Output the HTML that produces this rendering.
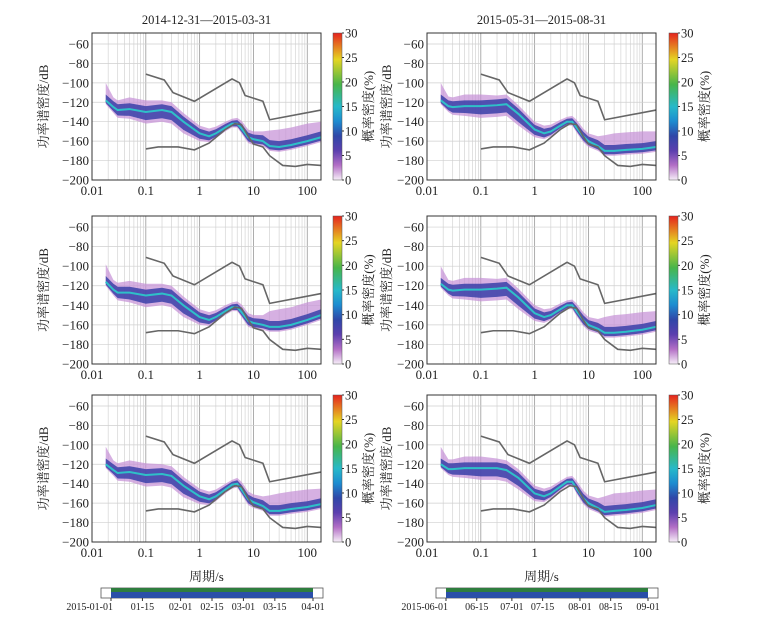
<!DOCTYPE html>
<html><head><meta charset="utf-8">
<style>
body{margin:0;background:#fff}
svg text{font-family:"Liberation Serif","Noto Serif CJK SC",serif;fill:#222}
</style></head>
<body>
<svg id="c" width="783" height="624" viewBox="0 0 783 624" xmlns="http://www.w3.org/2000/svg">
<defs>
<linearGradient id="cb" x1="0" y1="1" x2="0" y2="0">
<stop offset="0" stop-color="#f6eef8"/>
<stop offset="0.1" stop-color="#b36fc6"/>
<stop offset="0.2" stop-color="#5b3fae"/>
<stop offset="0.3" stop-color="#2f47a8"/>
<stop offset="0.4" stop-color="#1d8cd0"/>
<stop offset="0.5" stop-color="#27b9c9"/>
<stop offset="0.65" stop-color="#48b54a"/>
<stop offset="0.82" stop-color="#e5d523"/>
<stop offset="1" stop-color="#e5231e"/>
</linearGradient>
</defs>
</svg>
<script>
// ---- data ----
const periods=[0.018,0.025,0.03,0.05,0.1,0.2,0.3,0.5,1,1.5,2,3,4,5,6,8,10,15,20,30,50,100,180];
const modeTL=[-118,-125,-128,-127,-130,-128,-130,-140,-152,-155,-152,-146,-142,-142,-147,-156,-158,-160,-165,-166,-164,-160,-156];
const modeML=[-116,-124,-127,-127,-130,-128,-130,-140,-152,-155,-152,-146,-142,-142,-147,-156,-158,-160,-162,-162,-160,-155,-150];
const modeBL=[-120,-126,-129,-128,-131,-130,-132,-142,-153,-156,-153,-146,-141,-140,-146,-156,-159,-163,-168,-168,-166,-164,-161];
const modeTR=[-118,-124,-125,-124,-124,-123,-122,-132,-148,-152,-150,-144,-140,-140,-146,-155,-160,-165,-170,-170,-169,-168,-166];
const modeMR=[-118,-124,-125,-124,-124,-123,-122,-132,-148,-152,-150,-144,-140,-140,-146,-155,-160,-164,-168,-168,-167,-165,-162];
const modeBR=[-120,-125,-125,-124,-124,-124,-126,-134,-150,-153,-150,-143,-138,-138,-145,-155,-160,-165,-169,-168,-167,-165,-162];
const upSpread=[18,10,10,12,12,10,10,9,8,8,7,6,5,6,8,8,8,10,16,18,18,18,16];
const loSpread=[4,6,8,10,12,12,12,12,8,6,5,4,4,4,5,6,6,5,5,5,5,5,5];
const nhnmP=[0.1,0.22,0.32,0.8,4,5.5,7,15,20,180];
const nhnmV=[-91,-97,-110,-119,-96,-100,-113,-119,-138,-128];
const nlnmP=[0.1,0.17,0.4,0.8,1.5,3,4.5,6,8,10,15,20,35,60,100,180];
const nlnmV=[-168,-166,-166,-169,-162,-148,-142,-143,-155,-163,-166,-175,-185,-186,-184,-185];
const yTicks=[-60,-80,-100,-120,-140,-160,-180,-200];
const xTicks=[0.01,0.1,1,10,100];
const xTickLabels=["0.01","0.1","1","10","100"];
const cbTicks=[0,5,10,15,20,25,30];
const titles=["2014-12-31—2015-03-31","2015-05-31—2015-08-31"];
const dateLabelsL=["2015-01-01","01-15","02-01","02-15","03-01","03-15","04-01"];
const dateLabelsR=["2015-06-01","06-15","07-01","07-15","08-01","08-15","09-01"];
const dateDaysL=[0,14,31,45,59,73,90];
const dateDaysR=[0,14,30,44,61,75,92];

const svg=document.getElementById('c');
const NS='http://www.w3.org/2000/svg';
function el(t,a,p){const e=document.createElementNS(NS,t);for(const k in a)e.setAttribute(k,a[k]);(p||svg).appendChild(e);return e;}
function txt(s,a,p){const e=el('text',a,p);e.textContent=s;return e;}

const cols=[{x0:92,x1:321,cb:333,yt:44},{x0:427,x1:656,cb:669,yt:36}];
const rows=[{t:33,b:180},{t:216,b:364},{t:395,b:542}];
const modes=[[modeTL,modeTR],[modeML,modeMR],[modeBL,modeBR]];

rows.forEach((r,ri)=>cols.forEach((c,ci)=>{
  const g=el('g',{});
  
  
  const dec=(c.x1-c.x0)/Math.log10(18000);
  const X=p=>c.x0+(Math.log10(p)+2)*dec;
  const ky=(r.b-r.t)/151.3;
  const Y=v=>r.b-(v+200)*ky;
  el('rect',{x:c.x0,y:r.t,width:c.x1-c.x0,height:r.b-r.t,fill:'#fff'},g);
  for(let d=-2;d<=2;d++)for(let m=1;m<10;m++){const p=m*Math.pow(10,d);const x=X(p);if(x>=c.x1)continue;
    el('line',{x1:x,x2:x,y1:r.t,y2:r.b,stroke:m==1?'#999':'#d4d4d4','stroke-width':m==1?0.8:0.7},g);}
  yTicks.forEach(v=>{el('line',{x1:c.x0,x2:c.x1,y1:Y(v),y2:Y(v),stroke:'#cfcfcf','stroke-width':0.7},g);});
  const mode=modes[ri][ci];
  let pts=periods.map((p,i)=>X(p)+','+Y(mode[i]+upSpread[i]));
  pts=pts.concat(periods.map((p,i)=>X(p)+','+Y(mode[i]-loSpread[i])).reverse());
  const ob=el('polygon',{points:pts.join(' '),fill:'#c58fd6','fill-opacity':0.7},g);
  
  
  let pts2=periods.map((p,i)=>X(p)+','+Y(mode[i]+Math.min(upSpread[i],10)*0.6));
  pts2=pts2.concat(periods.map((p,i)=>X(p)+','+Y(mode[i]-loSpread[i]*0.7)).reverse());
  const ib=el('polygon',{points:pts2.join(' '),fill:'#3a40a8','fill-opacity':0.85},g);
  
  
  const ml=el('polyline',{points:periods.map((p,i)=>X(p)+','+Y(mode[i])).join(' '),fill:'none',stroke:'#2ec0c8','stroke-width':2},g);
  
  
  const nh=el('polyline',{points:nhnmP.map((p,i)=>X(p)+','+Y(nhnmV[i])).join(' '),fill:'none',stroke:'#666','stroke-width':1.6},g);
  
  
  const nl=el('polyline',{points:nlnmP.map((p,i)=>X(p)+','+Y(nlnmV[i])).join(' '),fill:'none',stroke:'#666','stroke-width':1.6},g);
  
  
  el('rect',{x:c.x0,y:r.t,width:c.x1-c.x0,height:r.b-r.t,fill:'none',stroke:'#333','stroke-width':1},g);
  yTicks.forEach(v=>{const t=txt(v.toString().replace('-','−'),{x:c.x0-3,y:Y(v)+4.5,'font-size':13,'text-anchor':'end'},g);
    });
  xTicks.forEach((p,i)=>{const t=txt(xTickLabels[i],{x:X(p),y:r.b+15,'font-size':13,'text-anchor':'middle'},g);
    });
  const yl=txt('功率谱密度/dB',{x:0,y:0,'font-size':13,'text-anchor':'middle',transform:`translate(${c.x0-c.yt},${(r.t+r.b)/2}) rotate(-90)`},g);
  
  const cb=el('rect',{x:c.cb,y:r.t,width:9,height:r.b-r.t,fill:'url(#cb)',stroke:'#555','stroke-width':0.5},g);
  
  cbTicks.forEach(v=>{const y=r.b-v/30*(r.b-r.t);el('line',{x1:c.cb+9,x2:c.cb+11,y1:y,y2:y,stroke:'#333'},g);
    const t=txt(String(v),{x:c.cb+12,y:y+4.5,'font-size':12.5},g);});
  const ct=txt('概率密度(%)',{x:0,y:0,'font-size':13,'text-anchor':'middle',transform:`translate(${c.cb+40},${(r.t+r.b)/2}) rotate(-90)`},g);
  
  if(ri==0){const t=txt(titles[ci],{x:(c.x0+c.x1)/2,y:24,'font-size':12.5,'text-anchor':'middle'},g);
    }
  if(ri==2){const t=txt('周期/s',{x:(c.x0+c.x1)/2,y:581,'font-size':13,'text-anchor':'middle'},g);
    
    const tx0=c.x0+9,tx1=c.x1+2,in0=tx0+10,in1=tx1-10;
    el('rect',{x:tx0,y:588,width:tx1-tx0,height:10,fill:'#fff',stroke:'#555','stroke-width':0.8},g);
    el('rect',{x:in0,y:588,width:in1-in0,height:4,fill:'#2e7d3e'},g);
    const tb=el('rect',{x:in0,y:592,width:in1-in0,height:6,fill:'#2a4fa8'},g);
    
    const labs=ci==0?dateLabelsL:dateLabelsR, days=ci==0?dateDaysL:dateDaysR, tot=days[days.length-1];
    labs.forEach((s,i)=>{const x=in0+days[i]/tot*(in1-in0);el('line',{x1:x,x2:x,y1:598,y2:601,stroke:'#333'},g);
      const t=txt(s,{x:i==0?x+2:x,y:610,'font-size':10,'text-anchor':i==0?'end':'middle'},g);});
  }
}));
</script>
</body></html>
